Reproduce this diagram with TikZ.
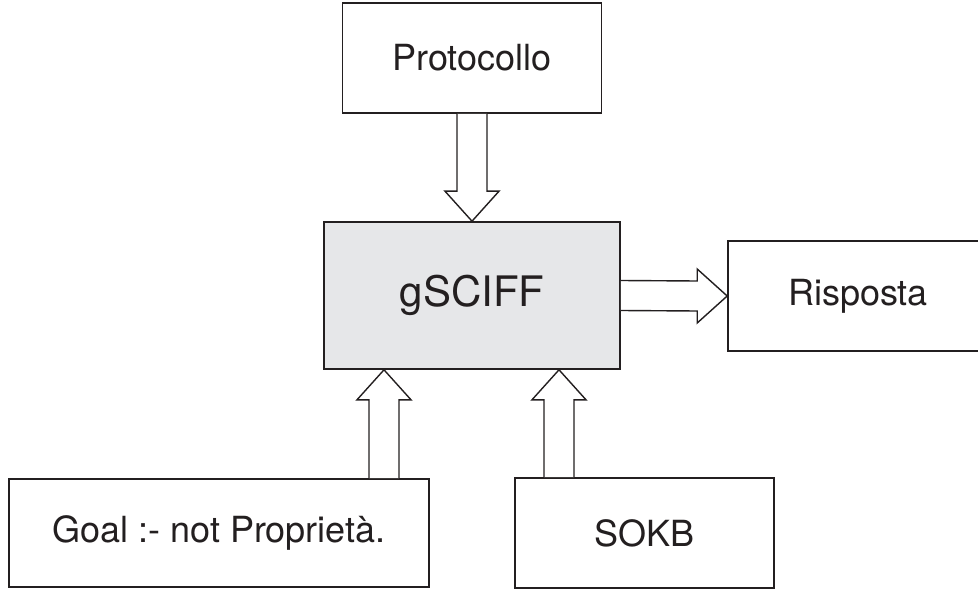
\documentclass[tikz,border=0pt]{standalone}
\usepackage{fontspec}
\setmainfont{TeX Gyre Heros}
\usetikzlibrary{calc}
\definecolor{ink}{HTML}{231F20}
\definecolor{boxgray}{HTML}{E6E7E9}
\begin{document}
\begin{tikzpicture}[x=1pt,y=-1pt,
  box/.style={draw=ink,line width=1.6pt,rectangle,inner sep=0pt,text=ink,
    font=\fontsize{36}{40}\selectfont},
  blk/.style={draw=ink,line width=1.4pt,line join=miter,fill=white}]
\useasboundingbox (0,0) rectangle (978,591);
\node[box,minimum width=259pt,minimum height=110pt] (proto) at (472,58) {Protocollo};
\node[box,fill=boxgray,minimum width=296pt,minimum height=147pt,
  font=\fontsize{42}{46}\selectfont] (gsciff) at (472,295.5) {gSCIFF};
\node[box,minimum width=260pt,minimum height=110pt] (risp) at (858,296) {Risposta};
\node[box,minimum width=420pt,minimum height=108pt] (goal) at (219,533) {Goal :- not Proprietà.};
\node[box,minimum width=259pt,minimum height=110pt] (sokb) at (644.5,533) {SOKB};
% Protocollo -> gSCIFF
\draw[blk] ([xshift=-15pt]proto.south) -- ([xshift=-15pt,yshift=30pt]gsciff.north)
  -- ([xshift=-27pt,yshift=30pt]gsciff.north) -- (gsciff.north)
  -- ([xshift=27pt,yshift=30pt]gsciff.north) -- ([xshift=15pt,yshift=30pt]gsciff.north)
  -- ([xshift=15pt]proto.south);
% gSCIFF -> Risposta
\draw[blk] ([yshift=15pt]gsciff.east) -- ([xshift=-30pt,yshift=15pt]risp.west)
  -- ([xshift=-30pt,yshift=27pt]risp.west) -- (risp.west)
  -- ([xshift=-30pt,yshift=-27pt]risp.west) -- ([xshift=-30pt,yshift=-15pt]risp.west)
  -- ([yshift=-15pt]gsciff.east);
% Goal -> gSCIFF
\coordinate (t1) at ([xshift=-88pt]gsciff.south);
\coordinate (b1) at (t1 |- goal.north);
\draw[blk] ([xshift=-15pt]b1) -- ([xshift=-15pt,yshift=-30pt]t1)
  -- ([xshift=-27pt,yshift=-30pt]t1) -- (t1)
  -- ([xshift=27pt,yshift=-30pt]t1) -- ([xshift=15pt,yshift=-30pt]t1)
  -- ([xshift=15pt]b1);
% SOKB -> gSCIFF
\coordinate (t2) at ([xshift=87pt]gsciff.south);
\coordinate (b2) at (t2 |- sokb.north);
\draw[blk] ([xshift=-15pt]b2) -- ([xshift=-15pt,yshift=-30pt]t2)
  -- ([xshift=-27pt,yshift=-30pt]t2) -- (t2)
  -- ([xshift=27pt,yshift=-30pt]t2) -- ([xshift=15pt,yshift=-30pt]t2)
  -- ([xshift=15pt]b2);
\end{tikzpicture}
\end{document}
